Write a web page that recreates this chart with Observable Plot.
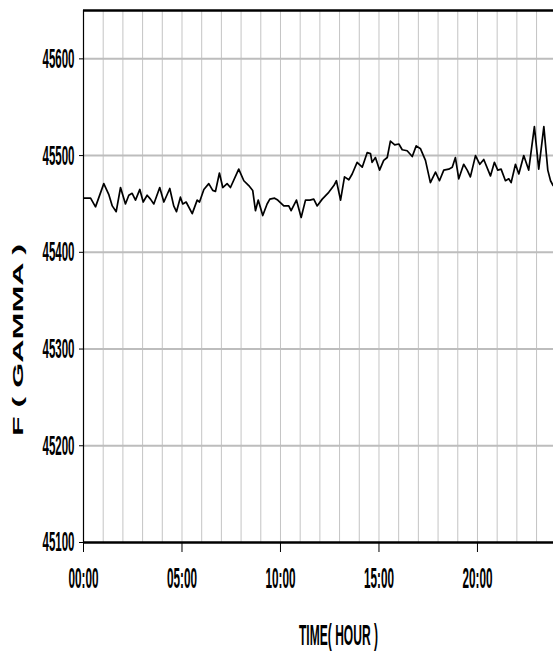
<!DOCTYPE html>
<html>
<head>
<meta charset="utf-8">
<script src="https://cdn.jsdelivr.net/npm/d3@7"></script>
<script src="https://cdn.jsdelivr.net/npm/@observablehq/plot@0.6"></script>
<style>
  html, body { margin: 0; padding: 0; background: #fff; }
  #chart { width: 553px; height: 651px; overflow: hidden; }
</style>
</head>
<body>
<div id="chart"></div>
<script>
// ---- data ----
const hours = [0.02,0.36,0.61,1.03,1.28,1.46,1.66,1.88,2.13,2.30,2.47,2.64,2.86,3.03,3.23,3.40,3.57,3.87,4.08,4.38,4.58,4.72,4.92,
  5.04,5.21,5.52,5.77,5.89,6.11,6.36,6.56,6.70,6.90,7.07,7.29,7.46,7.88,8.14,8.39,8.59,8.73,8.87,9.10,9.32,9.46,9.70,9.86,
  10.17,10.42,10.54,10.81,11.05,11.27,11.49,11.69,11.86,12.12,12.45,12.71,12.84,13.05,13.25,13.47,13.64,13.89,14.15,14.40,14.57,14.65,14.82,
  15.03,15.24,15.42,15.58,15.80,16.01,16.18,16.43,16.69,16.89,17.11,17.36,17.61,17.87,18.07,18.29,18.54,18.72,18.88,19.05,19.30,19.48,19.64,19.90,
  20.12,20.32,20.66,20.86,21.03,21.20,21.42,21.59,21.71,21.93,22.10,22.35,22.60,22.89,23.11,23.37,23.57,23.71,23.84];
const fValues = [45456,45456,45447,45471,45460,45448,45442,45467,45450,45459,45461,45454,45465,45452,45459,45455,45450,45467,45452,45466,45448,45442,45457,
  45450,45452,45440,45454,45452,45465,45471,45464,45463,45482,45467,45471,45467,45486,45474,45469,45464,45443,45454,45438,45450,45455,45456,45454,
  45448,45448,45443,45454,45436,45454,45454,45455,45448,45455,45462,45469,45474,45454,45478,45475,45481,45493,45488,45503,45502,45493,45498,
  45485,45495,45498,45515,45511,45512,45506,45505,45499,45510,45507,45495,45472,45483,45474,45485,45486,45488,45498,45476,45491,45485,45478,45500,
  45491,45496,45479,45493,45485,45486,45474,45476,45472,45491,45481,45500,45485,45530,45486,45530,45485,45474,45469];

const xDomain = [0, 23.86];
const yDomain = [45100, 45650];
const xTickValues = [0, 5, 10, 15, 20];
const xTickLabels = ["00:00", "05:00", "10:00", "15:00", "20:00"];
const yTickValues = [45100, 45200, 45300, 45400, 45500, 45600];
const yGridValues = [45200, 45300, 45400, 45500, 45600];
const hourGrid = [1,2,3,4,5,6,7,8,9,10,11,12,13,14,15,16,17,18,19,20,21,22,23];
const xTitle = "TIME( HOUR )";
const yTitle = "F ( GAMMA )";

const data = hours.map((h, i) => ({h, v: fValues[i]}));

const chart = Plot.plot({
  width: 553,
  height: 651,
  marginLeft: 83,
  marginRight: 0,
  marginTop: 10,
  marginBottom: 109,
  style: {fontFamily: "Liberation Sans, Arial, sans-serif", color: "black", background: "white"},
  x: {domain: xDomain, ticks: xTickValues, tickSize: 10, tickPadding: 15,
      tickFormat: d => xTickLabels[xTickValues.indexOf(d)], label: null},
  y: {domain: yDomain, ticks: yTickValues, tickSize: 4, tickPadding: 5,
      tickFormat: d => String(d), label: null},
  marks: [
    Plot.ruleX(hourGrid, {stroke: "#c4c4c4", strokeWidth: 1}),
    Plot.ruleY(yGridValues, {stroke: "#bdbdbd", strokeWidth: 2}),
    Plot.line(data, {x: "h", y: "v", stroke: "black", strokeWidth: 1.7}),
    Plot.ruleX([xDomain[0]], {stroke: "black", strokeWidth: 1.2}),
    Plot.ruleY([yDomain[0]], {stroke: "black", strokeWidth: 2.5}),
    Plot.ruleY([yDomain[1]], {stroke: "black", strokeWidth: 2.5})
  ]
});
document.getElementById("chart").appendChild(chart);

const svg = d3.select(chart);
svg.selectAll('[aria-label^="y-axis"] text')
  .style("font-size", "28px").style("font-weight", "bold")
  .attr("textLength", 32).attr("lengthAdjust", "spacingAndGlyphs");
svg.selectAll('[aria-label^="x-axis"] text')
  .style("font-size", "29px").style("font-weight", "bold")
  .attr("textLength", 30).attr("lengthAdjust", "spacingAndGlyphs");

svg.append("text")
  .attr("x", 338.5).attr("y", 645)
  .attr("text-anchor", "middle")
  .style("font-size", "30px")
  .style("font-family", "Liberation Sans, Arial, sans-serif")
  .style("font-weight", "bold")
  .attr("textLength", 79).attr("lengthAdjust", "spacingAndGlyphs")
  .attr("fill", "black")
  .text(xTitle);

svg.append("text")
  .attr("transform", "translate(23,436) rotate(-90)")
  .attr("text-anchor", "start")
  .style("font-size", "14.5px")
  .style("font-family", "Liberation Sans, Arial, sans-serif")
  .style("font-weight", "bold")
  .attr("textLength", 192).attr("lengthAdjust", "spacingAndGlyphs")
  .attr("fill", "black")
  .text(yTitle);
</script>
</body>
</html>
